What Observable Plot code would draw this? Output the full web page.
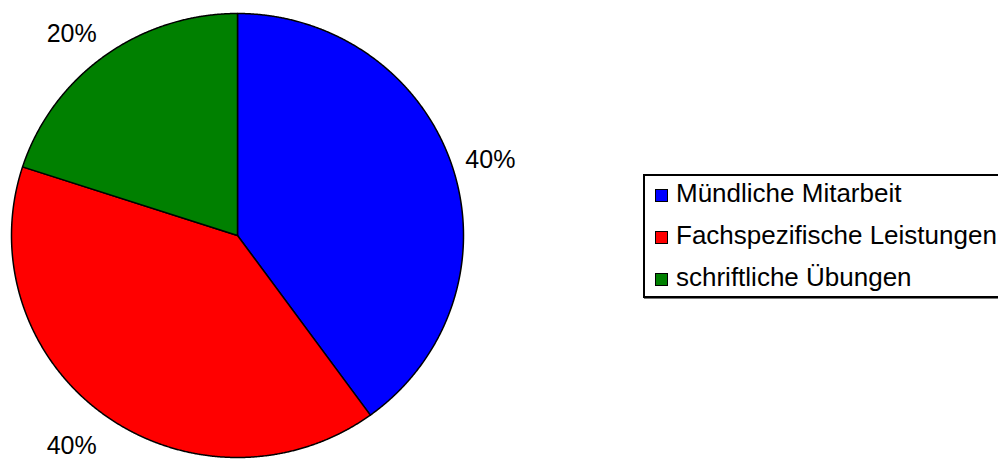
<!DOCTYPE html>
<html><head><meta charset="utf-8">
<script src="https://cdn.jsdelivr.net/npm/d3@7"></script>
<script src="https://cdn.jsdelivr.net/npm/@observablehq/plot@0.6"></script>
<style>
body{margin:0;background:#fff;overflow:hidden;font-family:"Liberation Sans",Arial,sans-serif;}
#wrap{position:relative;width:998px;height:459px;overflow:hidden;}
#legend{position:absolute;left:643px;top:174px;width:420px;height:120px;border:2px solid #000;padding-left:10px;box-sizing:content-box;background:#fff;box-shadow:1px 1px 0 #777;}
.row{height:42px;line-height:34px;font-size:26px;white-space:nowrap;color:#000;}
.sw{display:inline-block;width:13px;height:13px;box-sizing:border-box;border:1px solid #000;margin-right:8px;vertical-align:baseline;}
</style></head><body><div id="wrap"></div>
<script>
const categories = ["Mündliche Mitarbeit", "Fachspezifische Leistungen", "schriftliche Übungen"];
const values = [40, 40, 20];
const labels = ["40%", "40%", "20%"];
const colors = ["#0000ff", "#ff0000", "#008000"];

const arcs = d3.pie().sort(null).startAngle(0).endAngle(2 * Math.PI)(values);

function slicePoints(a) {
  const p = [{x: 0, y: 0}];
  const n = Math.max(2, Math.ceil((a.endAngle - a.startAngle) / 0.004));
  for (let j = 0; j <= n; j++) {
    const t = a.startAngle + (a.endAngle - a.startAngle) * j / n;
    p.push({x: Math.sin(t), y: Math.cos(t)});
  }
  p.push({x: 0, y: 0});
  return p;
}

const sliceMarks = arcs.map((a, i) =>
  Plot.line(slicePoints(a), {x: "x", y: "y", fill: colors[i], stroke: "#000", strokeWidth: 1.5, strokeLinejoin: "round"})
);

const k = 1.06;
const labelMarks = arcs.map((a, i) => {
  const m = (a.startAngle + a.endAngle) / 2;
  const s = Math.sin(m), c = Math.cos(m);
  const textAnchor = s >= 0 ? "start" : "end";
  const lineAnchor = Math.abs(c) < 0.5 ? "middle" : (c > 0 ? "bottom" : "top");
  const dy = lineAnchor === "top" ? 10 : -3;
  return Plot.text([{x: s * k, y: c * k, t: labels[i]}], {
    x: "x", y: "y", text: "t", textAnchor, lineAnchor, dy,
    fontSize: 25, fill: "#000", fontFamily: "Liberation Sans, Arial, sans-serif"
  });
});

const chart = Plot.plot({
  width: 998, height: 459,
  marginTop: 0, marginBottom: 0, marginLeft: 0, marginRight: 0,
  x: {domain: [-1, 1], range: [11, 463], axis: null},
  y: {domain: [-1, 1], range: [457, 13], axis: null},
  style: {background: "#fff", overflow: "visible"},
  marks: [...sliceMarks, ...labelMarks]
});
const wrap = document.getElementById("wrap");
wrap.appendChild(chart);

const legend = document.createElement("div");
legend.id = "legend";
categories.forEach((name, i) => {
  const row = document.createElement("div");
  row.className = "row";
  const sw = document.createElement("span");
  sw.className = "sw";
  sw.style.background = colors[i];
  row.appendChild(sw);
  row.appendChild(document.createTextNode(name));
  legend.appendChild(row);
});
wrap.appendChild(legend);
</script></body></html>
